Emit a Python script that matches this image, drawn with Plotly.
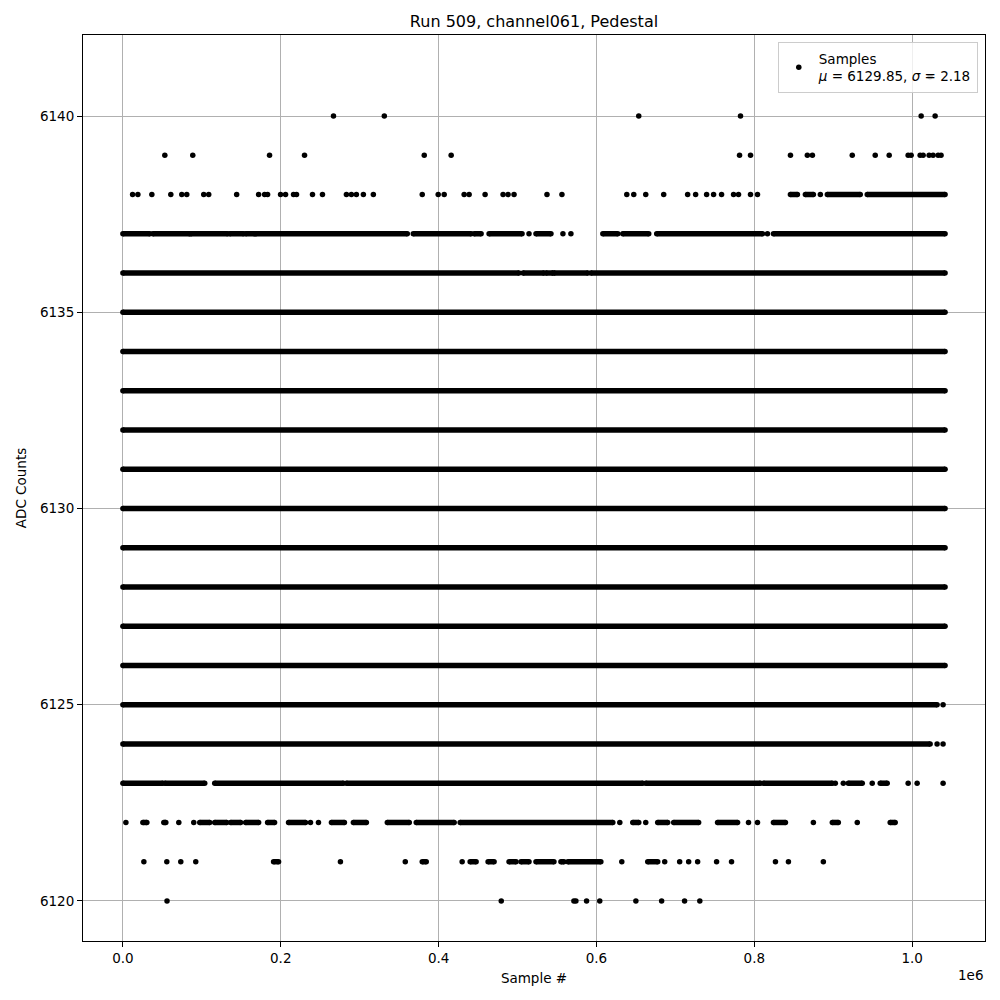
import plotly.graph_objects as go

# ---------------- data (sample index, ADC level) ----------------
N_LAST = 1041700
full_levels = [6126, 6127, 6128, 6129, 6130, 6131, 6132, 6133, 6134, 6135]

pts_6141 = [1022700]
pts_6140 = [266800, 331200, 653600, 782500, 1011400, 1029100]
pts_6139 = [53100, 88500, 185800, 230100, 381800, 415900, 781300, 795200,
            845800, 867200, 873600, 924100, 953200, 970900, 994900, 998700,
            1010100, 1013900, 1021500, 1026500, 1032900, 1036600]
pts_6138 = [12260, 18960, 36660, 60680, 74590, 80910, 102400, 108720, 144120,
            171930, 179520, 183310, 199740, 206060, 216180, 219970, 240200,
            252840, 283180, 289500, 295820, 304670, 317310, 379260, 399490,
            407070, 432360, 438680, 458900, 481660, 487980, 495570, 537290,
            556250, 638420, 647270, 662440, 685200, 715540, 725650, 739560,
            748410, 758520, 773690, 780010, 795180, 804030, 883680]
seg_6138 = [(845750, 854600), (864710, 874830), (892530, 934240), (943090, N_LAST)]
pts_6137 = [514530, 557510, 567630, 816670]
seg_6137 = [(0, 34130), (37930, 84700), (85970, 132740), (135270, 152970),
            (155490, 166870), (168140, 360300), (367880, 441200), (445000, 453850),
            (463960, 505680), (523380, 542340), (608080, 627040), (633360, 666230),
            (676350, 810350), (824260, N_LAST)]
seg_6136 = [(0, 501890), (506940, 533490), (536020, 544870), (546130, 589120),
            (592910, N_LAST)]
seg_6125 = [(0, 1031590)]
pts_6125 = [1039170]
seg_6124 = [(0, 1022740)]
pts_6124 = [1031590, 1039170]
seg_6123 = [(0, 50570), (53100, 103660), (116310, 279390), (283180, 658650),
            (662440, 807820), (811610, 898850), (919070, 936770), (959520, 968370)]
pts_6123 = [902640, 912750, 949410, 994930, 1006300, 1039170]
seg_6122 = [(25280, 30340), (51830, 54360), (97340, 109990), (116310, 131480),
            (136530, 149180), (155490, 171930), (183310, 192160), (209860, 231350),
            (264220, 280650), (292030, 308460), (335010, 362820), (371670, 419710),
            (427300, 620720), (646010, 653590), (677610, 690250), (697840, 729440),
            (753460, 778750), (824260, 839430), (898850, 906440), (972170, 978490)]
pts_6122 = [3790, 70800, 89760, 237670, 247780, 629570, 662440, 792650, 804030,
            874830, 930450]
seg_6121 = [(190890, 197220), (379260, 384320), (439950, 447530), (462700, 470280),
            (489250, 498100), (504420, 514530), (523380, 546130), (554980, 558780),
            (563830, 605550), (664970, 677610)]
pts_6121 = [26550, 55620, 73320, 92290, 275600, 357770, 429830, 632100, 686460,
            705420, 716800, 728180, 752200, 771160, 826790, 843230, 887470]
pts_6120 = [55880, 479380, 571420, 573950, 587470, 604160, 649930, 682540,
            711620, 730960]

x_ticks = [0, 200000, 400000, 600000, 800000, 1000000]
x_tick_labels = ["0.0", "0.2", "0.4", "0.6", "0.8", "1.0"]
y_ticks = [6120, 6125, 6130, 6135, 6140]

# ---------------- build traces ----------------
segments = {lvl: [(0, N_LAST)] for lvl in full_levels}
segments.update({6138: seg_6138, 6137: seg_6137, 6136: seg_6136, 6125: seg_6125,
                 6124: seg_6124, 6123: seg_6123, 6122: seg_6122, 6121: seg_6121})
points = {6141: pts_6141, 6140: pts_6140, 6139: pts_6139, 6138: pts_6138,
          6137: pts_6137, 6125: pts_6125, 6124: pts_6124, 6123: pts_6123,
          6122: pts_6122, 6121: pts_6121, 6120: pts_6120}

sx, sy = [], []
for lvl, segs in segments.items():
    for a, b in segs:
        sx += [a, b, None]
        sy += [lvl, lvl, None]
px, py = [], []
for lvl, pts in points.items():
    px += pts
    py += [lvl] * len(pts)

fig = go.Figure()
fig.add_trace(go.Scatter(x=sx, y=sy, mode="lines+markers",
                         line=dict(color="black", width=5.5),
                         marker=dict(color="black", size=5.5),
                         showlegend=False, hoverinfo="skip"))
fig.add_trace(go.Scatter(x=px, y=py, mode="markers",
                         marker=dict(color="black", size=5.5),
                         name="Samples<br><i>μ</i> = 6129.85, <i>σ</i> = 2.18"))

font = "DejaVu Sans"
fig.update_layout(
    width=1000, height=1000,
    margin=dict(l=73, r=23, t=27, b=67),
    paper_bgcolor="white", plot_bgcolor="white",
    font=dict(family=font, size=13.5, color="black"),
    title=dict(text="Run 509, channel061, Pedestal", x=0.5, xref="paper",
               y=0.987, yref="container", xanchor="center", yanchor="middle",
               font=dict(size=16, family=font)),
    showlegend=True,
    legend=dict(x=0.992, y=0.992, xanchor="right", yanchor="top",
                bgcolor="rgba(255,255,255,0.8)", bordercolor="#cccccc",
                borderwidth=1, font=dict(size=13.5, family=font)),
)
fig.update_xaxes(range=[-50570, 1092290], tickvals=x_ticks, ticktext=x_tick_labels,
                 showgrid=True, gridcolor="#b0b0b0", gridwidth=0.8, zeroline=False,
                 showline=True, linecolor="black", linewidth=1, mirror=True,
                 ticks="outside", ticklen=5, tickcolor="black",
                 title=dict(text="Sample #", font=dict(size=13.5), standoff=8))
fig.update_yaxes(range=[6118.98, 6142.064], tickvals=y_ticks,
                 showgrid=True, gridcolor="#b0b0b0", gridwidth=0.8, zeroline=False,
                 showline=True, linecolor="black", linewidth=1, mirror=True,
                 ticks="outside", ticklen=5, tickcolor="black",
                 title=dict(text="ADC Counts", font=dict(size=13.5), standoff=10))
fig.add_annotation(text="1e6", xref="paper", yref="paper", x=1, y=0,
                   xanchor="right", yanchor="middle", yshift=-34, showarrow=False,
                   font=dict(size=13.5, family=font))

fig.write_html("out.html")
